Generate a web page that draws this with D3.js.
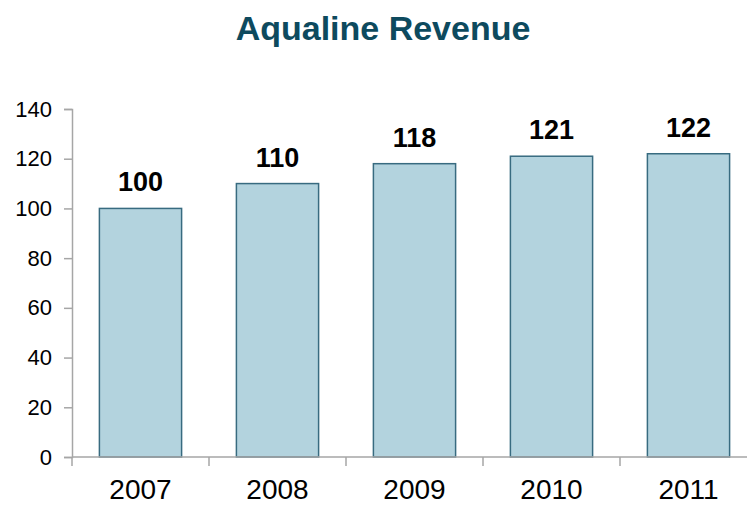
<!DOCTYPE html>
<html>
<head>
<meta charset="utf-8">
<script src="https://cdn.jsdelivr.net/npm/d3@7"></script>
<style>
    body { margin: 0; background: #fff; }
    svg { display: block; font-family: Arial, "Liberation Sans", sans-serif; }
</style>
</head>
<body>
<div id="chart"></div>
<script>
// Chart data
const years = ['2007', '2008', '2009', '2010', '2011'];
const revenue = [100, 110, 118, 121, 122];
const yTicks = [0, 20, 40, 60, 80, 100, 120, 140];

const width = 747;
const height = 505;
const margin = { top: 109, right: -10, bottom: 48, left: 72 };

const svg = d3.select('#chart')
    .append('svg')
    .attr('width', width)
    .attr('height', height);

// Title
svg.append('text')
    .attr('x', 383)
    .attr('y', 40)
    .attr('text-anchor', 'middle')
    .style('font-size', '34px')
    .style('font-weight', 'bold')
    .style('fill', '#0d4a5e')
    .text('Aqualine Revenue');

// Scales
const x = d3.scaleBand()
    .domain(years)
    .range([margin.left, width - margin.right])
    .paddingInner(0.4)
    .paddingOuter(0.2);

const y = d3.scaleLinear()
    .domain([0, 140])
    .range([height - margin.bottom, margin.top]);

const axisColor = '#a6a6a6';

// Y axis
const yAxis = svg.append('g')
    .attr('transform', `translate(${margin.left},0)`)
    .call(d3.axisLeft(y).tickValues(yTicks).tickSize(8).tickPadding(12));
yAxis.select('.domain').attr('stroke', axisColor).attr('stroke-width', 1.5);
yAxis.selectAll('.tick line').attr('stroke', axisColor).attr('stroke-width', 1.5);
yAxis.selectAll('.tick text')
    .style('font-size', '22px')
    .style('fill', '#000');

// Bars
svg.selectAll('.bar')
    .data(revenue)
    .enter()
    .append('rect')
    .attr('class', 'bar')
    .attr('x', (d, i) => x(years[i]))
    .attr('y', d => y(d))
    .attr('width', x.bandwidth())
    .attr('height', d => y(0) - y(d))
    .style('fill', '#b3d3de')
    .style('stroke', '#386b80')
    .style('stroke-width', 1.5);

// X axis (ticks between categories)
const step = x.step();
const boundaries = d3.range(years.length + 1).map(i => margin.left + i * step);
const xAxis = svg.append('g');
xAxis.append('line')
    .attr('x1', margin.left)
    .attr('x2', width)
    .attr('y1', y(0))
    .attr('y2', y(0))
    .attr('stroke', axisColor)
    .attr('stroke-width', 1.5);
xAxis.selectAll('.xtick')
    .data(boundaries)
    .enter()
    .append('line')
    .attr('class', 'xtick')
    .attr('x1', d => d)
    .attr('x2', d => d)
    .attr('y1', y(0))
    .attr('y2', y(0) + 9)
    .attr('stroke', axisColor)
    .attr('stroke-width', 1.5);
xAxis.selectAll('.xlabel')
    .data(years)
    .enter()
    .append('text')
    .attr('class', 'xlabel')
    .attr('x', d => x(d) + x.bandwidth() / 2)
    .attr('y', 499)
    .attr('text-anchor', 'middle')
    .style('font-size', '28px')
    .style('fill', '#000')
    .text(d => d);

// Value labels
svg.selectAll('.value')
    .data(revenue)
    .enter()
    .append('text')
    .attr('class', 'value')
    .attr('x', (d, i) => x(years[i]) + x.bandwidth() / 2)
    .attr('y', d => y(d) - 17)
    .attr('text-anchor', 'middle')
    .style('font-size', '27px')
    .style('font-weight', 'bold')
    .style('fill', '#000')
    .text(d => d);
</script>
</body>
</html>
